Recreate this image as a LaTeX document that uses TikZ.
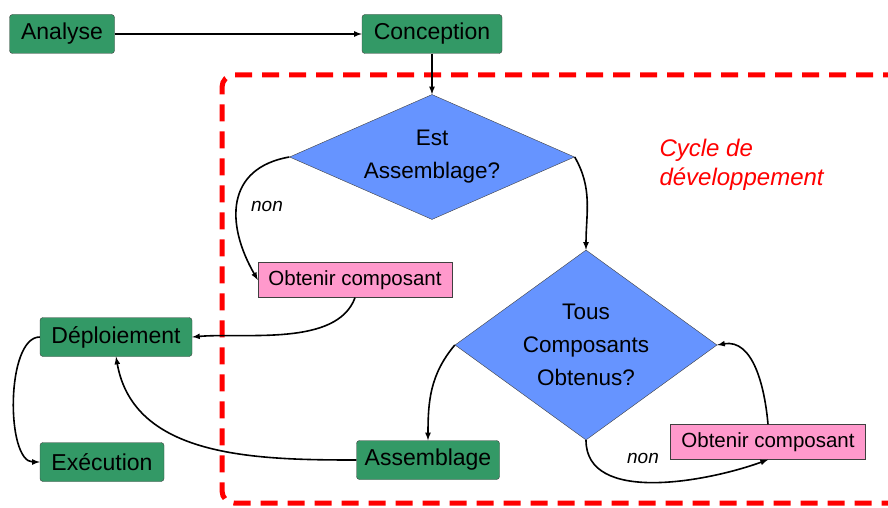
\documentclass[tikz,border=0pt]{standalone}
\usepackage{fontspec}
\setmainfont{Liberation Sans}
\usetikzlibrary{shapes.geometric}
\definecolor{vert}{RGB}{51,153,102}
\definecolor{bleu}{RGB}{102,148,255}
\definecolor{rose}{RGB}{255,153,204}

\begin{document}
\begin{tikzpicture}[x=1pt, y=-1pt, >=latex,
    etape/.style={draw=black!75, fill=vert, rounded corners=3pt, minimum height=39pt, inner sep=0pt, font=\fontsize{23}{26}\selectfont},
    test/.style={diamond, draw=black!75, fill=bleu, inner sep=0pt, align=center, font=\fontsize{22.5}{33}\selectfont},
    action/.style={draw=black!75, fill=rose, minimum height=35pt, inner sep=0pt, font=\fontsize{20.5}{22}\selectfont},
    fleche/.style={->, line width=1.6pt},
    remarque/.style={font=\fontsize{19}{22}\selectfont\itshape}]
    \useasboundingbox (0,0) rectangle (888,508);
    \clip (0,0) rectangle (888,508);

    % cycle de developpement
    \draw[red, line width=5pt, dash pattern=on 17pt off 10pt, rounded corners=12pt]
            (900,75) -| (222,503) -- (900,503);
    \node[red, anchor=north west, align=left, font=\fontsize{24}{29}\selectfont\itshape] (cycle) at (656,136) {Cycle de\\développement};

    \node[etape, minimum width=105pt] (analyse) at (62,34) {Analyse};
    \node[etape, minimum width=140pt] (conception) at (432,34) {Conception};
    \node[etape, minimum width=152pt] (deploiement) at (116,337) {Déploiement};
    \node[etape, minimum width=124pt] (execution) at (102,462) {Exécution};
    \node[etape, minimum width=143pt] (assemblage) at (428,460) {Assemblage};

    \node[test, aspect=2.28, minimum width=285pt, minimum height=125pt] (estasm) at (432,157) {Est\\Assemblage?};
    \node[test, aspect=1.38, minimum width=262pt, minimum height=190pt] (tous) at (586,345) {Tous\\Composants\\Obtenus?};

    \node[action, minimum width=194pt] (obtenir1) at (355,280) {Obtenir composant};
    \node[action, minimum width=195pt] (obtenir2) at (768,442) {Obtenir composant};

    \draw[fleche] (analyse) -- (conception);
    \draw[fleche] (conception) -- (estasm.north);
    \draw[fleche] (estasm.west) to[out=190, in=120, looseness=1.3] (obtenir1.west);
    \node[remarque] (non1) at (267,206) {non};
    \draw[fleche] (estasm.east) to[out=-60, in=90] (tous.north);
    \draw[fleche] (obtenir1.south) to[out=-110, in=5, looseness=0.8] (deploiement.east);
    \draw[fleche] (tous.west) to[out=-130, in=90] (assemblage.north);
    \draw[fleche] (tous.south) to[out=-90, in=-160, looseness=0.9] (obtenir2.south);
    \node[remarque] (non2) at (643,458) {non};
    \draw[fleche] (obtenir2.north) to[out=95, in=10] (tous.east);
    \draw[fleche] (assemblage.west) to[out=180, in=-80] (deploiement.south);
    \draw[fleche] (deploiement.west) to[out=180, in=180, looseness=0.7] (execution.west);
\end{tikzpicture}
\end{document}
